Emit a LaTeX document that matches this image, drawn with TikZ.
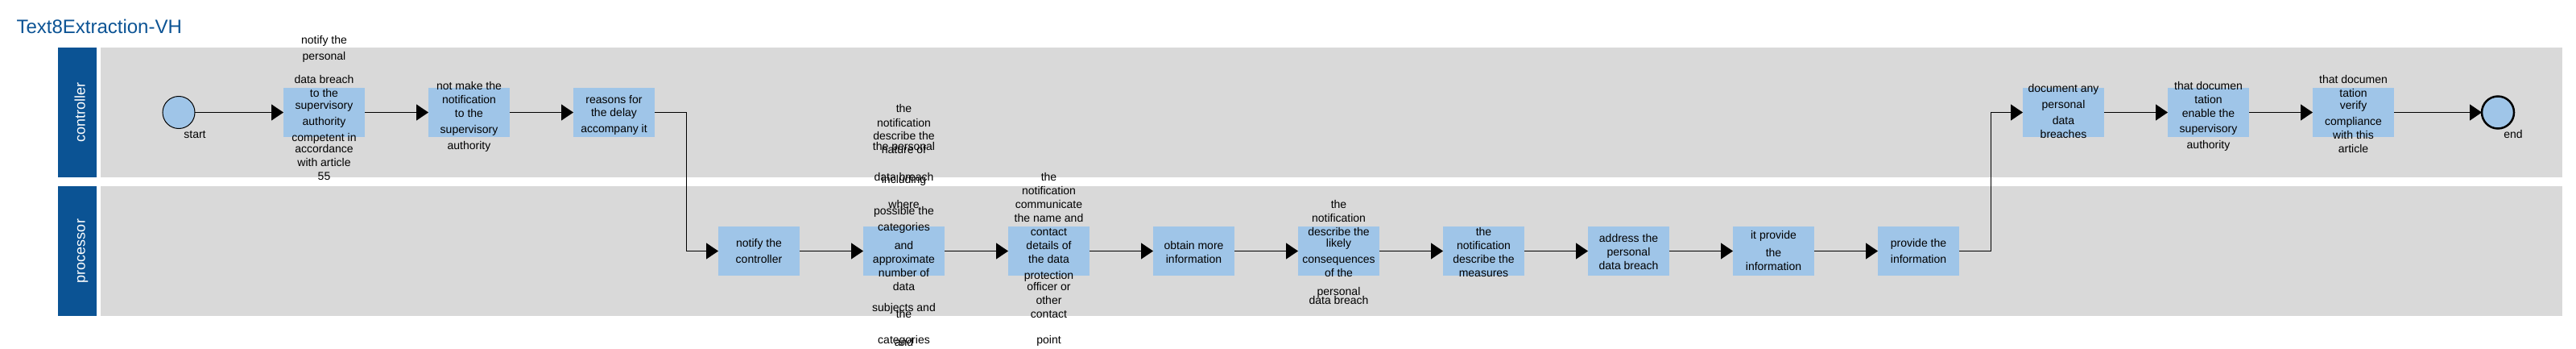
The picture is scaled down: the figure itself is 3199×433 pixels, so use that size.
\documentclass[tikz,border=0pt]{standalone}
\usepackage{fontspec}
\setmainfont{Liberation Sans}
\usetikzlibrary{arrows.meta,calc}
\definecolor{lanegray}{HTML}{D9D9D9}
\definecolor{taskblue}{HTML}{9FC5E8}
\definecolor{headblue}{HTML}{0B5394}

\begin{document}
\begin{tikzpicture}[
            x=1pt, y=-1pt, line width=1pt,
            task/.style={fill=taskblue,minimum width=101pt,minimum height=61pt,inner sep=0pt,outer sep=0pt},
            tasktext/.style={anchor=north,align=center,inner sep=0pt,font=\fontsize{14}{17}\selectfont},
            eventlabel/.style={anchor=base,inner sep=0pt,font=\fontsize{14}{17}\selectfont},
            event/.style={circle,draw,fill=taskblue,minimum size=40pt,inner sep=0pt,outer sep=0pt},
            lanehead/.style={fill=headblue,minimum width=48pt,minimum height=161pt,inner sep=0pt},
            lanetext/.style={rotate=90,anchor=base,inner sep=0pt,text=white,font=\fontsize{18}{18}\selectfont},
            flow/.style={-{Triangle[length=15pt,width=20pt]}}
        ]
            \useasboundingbox (0,0) rectangle (3199,433);

            \foreach \y in {59,231} {
                \fill [lanegray] (125,\y) rectangle (3182,\y+161);
            }
            \node[lanehead] (ctrl) at (96,139.5) {};
            \node[lanehead] (proc) at (96,311.5) {};
            \node[lanetext] (ctrlt) at (105.5,139.5) {controller};
            \node[lanetext] (proct) at (105.5,311.5) {processor};

            \node[anchor=base west,inner sep=0pt,text=headblue,font=\fontsize{24}{24}\selectfont] (title) at (20,42) {Text8Extraction-VH};

            \node[event] (start) at (222,139.5) {};
            \node[eventlabel] (startl) at (242,171.5) {start};
            \node[event,line width=2.5pt] (end) at (3102,139.5) {};
            \node[eventlabel] (endl) at (3121,171.5) {end};

            \foreach \n/\x in {c1/402.5,c2/582.5,c3/762.5,c4/2562.5,c5/2742.5,c6/2922.5} {
                \node[task] (\n) at (\x,139.5) {};
            }
            \foreach \n/\x in {p1/942.5,p2/1122.5,p3/1302.5,p4/1482.5,p5/1662.5,p6/1842.5,p7/2022.5,p8/2202.5,p9/2382.5} {
                \node[task] (\n) at (\x,311.5) {};
            }

            \node[tasktext] (c1t) at (402.5,44.3) {notify the\\[3pt]personal\\[12pt]data breach\\to the\\[-2.5pt]supervisory\\[3pt]authority\\[3pt]competent in\\[-3pt]accordance\\with article\\55};
            \node[tasktext] (c2t) at (582.5,101) {not make the\\notification\\to the\\[2.5pt]supervisory\\[3pt]authority};
            \node[tasktext] (c3t) at (762.5,118.3) {reasons for\\[-1pt]the delay\\[3pt]accompany it};
            \node[tasktext] (p1t) at (942.5,296.3) {notify the\\[2.5pt]controller};
            \node[tasktext] (p2t) at (1122.5,129) {the\\[0.5pt]notification\\[-0.5pt]describe the\\[-4.5pt]the personal\\[-12.5pt]nature of\\[16.5pt]data breach\\[-14pt]including\\[14.5pt]where\\[-9.5pt]possible the\\[3pt]categories\\[6pt]and\\approximate\\number of\\data\\[9pt]subjects and\\[-9pt]the\\[15.5pt]categories\\[-14.5pt]and};
            \node[tasktext] (p3t) at (1302.5,214.3) {the\\notification\\communicate\\the name and\\contact\\details of\\the data\\[3pt]protection\\[-3pt]officer or\\other\\contact\\[14.5pt]point};
            \node[tasktext] (p4t) at (1482.5,299) {obtain more\\information};
            \node[tasktext] (p5t) at (1662.5,247.7) {the\\notification\\describe the\\[-3pt]likely\\[3pt]consequences\\of the\\[6.5pt]personal\\[-6pt]data breach};
            \node[tasktext] (p6t) at (1842.5,282.3) {the\\notification\\describe the\\measures};
            \node[tasktext] (p7t) at (2022.5,290.3) {address the\\personal\\data breach};
            \node[tasktext] (p8t) at (2202.5,286) {it provide\\[4.5pt]the\\information};
            \node[tasktext] (p9t) at (2382.5,296) {provide the\\[3pt]information};
            \node[tasktext] (c4t) at (2562.5,104.3) {document any\\[3pt]personal\\[3pt]data\\breaches};
            \node[tasktext] (c5t) at (2742.5,101) {that documen\\tation\\enable the\\[2pt]supervisory\\[3pt]authority};
            \node[tasktext] (c6t) at (2922.5,93.3) {that documen\\tation\\[-2pt]verify\\[2.5pt]compliance\\with this\\article};

            \draw[flow] (start) -- (c1);
            \draw[flow] (c1) -- (c2);
            \draw[flow] (c2) -- (c3);
            \draw[flow] (c3.east) -| ($(c3.east)!.5!(p1.west)$) |- (p1.west);
            \foreach \a/\b in {p1/p2,p2/p3,p3/p4,p4/p5,p5/p6,p6/p7,p7/p8,p8/p9} {
                \draw[flow] (\a) -- (\b);
            }
            \draw[flow] (p9.east) -| ($(p9.east)!.5!(c4.west)$) |- (c4.west);
            \draw[flow] (c4) -- (c5);
            \draw[flow] (c5) -- (c6);
            \draw[flow] (c6) -- (end);
        \end{tikzpicture}
\end{document}
